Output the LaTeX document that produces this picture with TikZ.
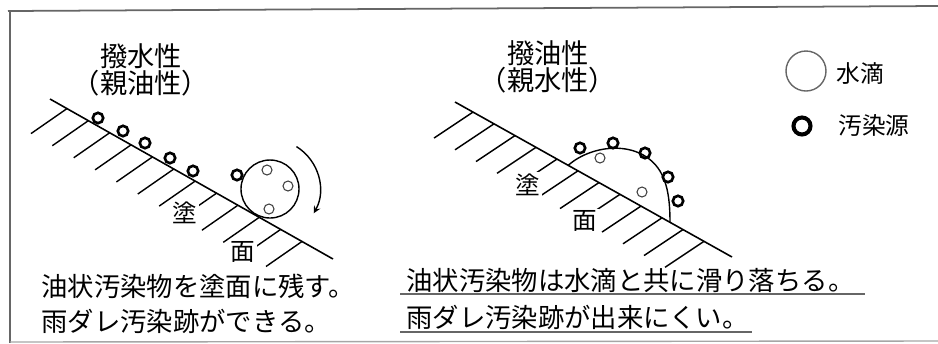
\documentclass[tikz,border=0pt]{standalone}
\usepackage{fontspec}
\setmainfont{Noto Sans CJK JP}
\usetikzlibrary{calc}

\begin{document}
\begin{tikzpicture}[>=stealth, x=0.02cm, y=-0.02cm,
    surface/.style={line width=0.9pt},
    hatch/.style={line width=0.8pt},
    dirt/.style={line width=1.5pt},
    drop/.style={line width=0.8pt},
    inner/.style={line width=0.6pt, black!75},
    label/.style={inner sep=1pt, fill=white, font=\fontsize{14}{14}\selectfont},
    title/.style={align=center, inner sep=0pt, font=\fontsize{15.5}{15.5}\selectfont},
    note/.style={anchor=west, inner sep=0pt, font=\fontsize{15}{15}\selectfont},
    legend/.style={anchor=west, inner sep=0pt, font=\fontsize{13.5}{13.5}\selectfont}]
\useasboundingbox (0,0) rectangle (938,343);

% frame
\draw[black!60, line width=1pt] (8,11) -- (938,6);
\draw[black!60, line width=1pt] (10,11) -- (10,343);
\draw[black!35, line width=0.8pt] (10,342) -- (938,341);

% left: water repellent surface
\coordinate (L1) at (50,99);
\coordinate (L2) at (333,259);
\draw[surface] (L1) -- (L2);
\foreach \i [evaluate=\i as \t using 0.06+0.0755*\i] in {0,...,11}
    \draw[hatch] ($(L1)!\t!(L2)$) -- ++(-36,25);
\foreach \p in {(98,118),(123,131),(145,143),(170,158),(193,171),(237,175)}
    \draw[dirt] \p circle[radius=5.2];
\coordinate (dropL) at (270,189);
\draw[drop] (dropL) circle[radius=29];
\foreach \p in {(267,170),(288,186),(269,209)}
    \draw[inner] \p circle[radius=5];
\draw[drop,->] ($(dropL)+(-58:50)$) arc[start angle=-58, end angle=29, radius=50];

\node[title] (titleL) at (141,69.5) {撥水性\\（親油性）};
\node[label] (tuL) at (185,213) {塗};
\node[label] (menL) at (243,252) {面};
\node[note] (noteL1) at (41,286.5) {油状汚染物を塗面に残す。};
\node[note] (noteL2) at (41,321) {雨ダレ汚染跡ができる。};

% right: oil repellent surface
\coordinate (R1) at (455,102);
\coordinate (R2) at (732,257);
\draw[surface] (R1) -- (R2);
\foreach \i [evaluate=\i as \t using 0.065+0.0758*\i] in {0,...,11}
    \draw[hatch] ($(R1)!\t!(R2)$) -- ++(-39,26);
\draw[drop] (568,165.5) .. controls (592,144) and (640,139) .. (660,171)
    .. controls (667,183) and (670,198) .. (670,222);
\foreach \p in {(580,148),(613,143),(645,153),(668,177),(678,201)}
    \draw[dirt] \p circle[radius=5.2];
\foreach \p in {(600,158),(642,192)}
    \draw[inner] \p circle[radius=5];

\node[title] (titleR) at (548,66.5) {撥油性\\（親水性）};
\node[label] (tuR) at (528,185) {塗};
\node[label] (menR) at (585,221) {面};
\node[note] (noteR1) at (406,280.5) {油状汚染物は水滴と共に滑り落ちる。};
\node[note] (noteR2) at (406,317.5) {雨ダレ汚染跡が出来にくい。};
\draw[black!60, line width=1pt] (400,294) -- (865,294);
\draw[black!60, line width=1pt] (400,332) -- (752,332);

% legend
\draw[black!60, line width=0.8pt] (806,71) circle[radius=20];
\node[legend] (waterTxt) at (836,74) {水滴};
\draw[line width=2.3pt] (802,126) circle[radius=8.5];
\node[legend] (dirtTxt) at (838,125) {汚染源};
\end{tikzpicture}
\end{document}
